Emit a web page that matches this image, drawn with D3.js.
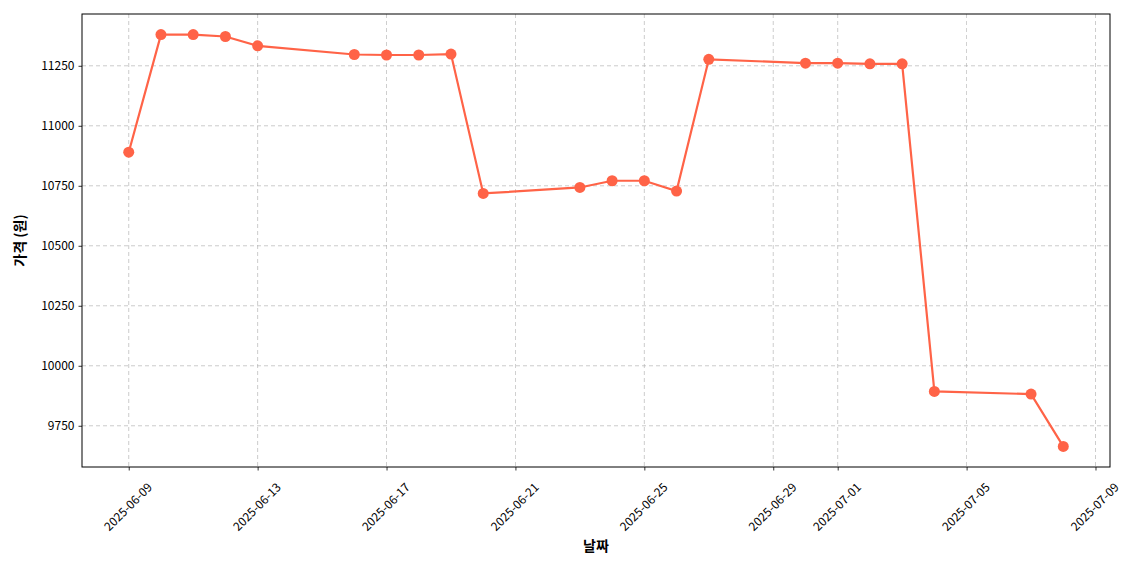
<!DOCTYPE html>
<html><head><meta charset="utf-8">
<script src="https://cdn.jsdelivr.net/npm/d3@7"></script>
<style>
body{margin:0;background:#fff;}
text{font-family:"Noto Sans CJK KR","Noto Sans",sans-serif;}
</style></head>
<body><svg id="c" width="1140" height="570"></svg>
<script>
const dates = ["2025-06-09","2025-06-10","2025-06-11","2025-06-12","2025-06-13","2025-06-16","2025-06-17","2025-06-18","2025-06-19","2025-06-20","2025-06-23","2025-06-24","2025-06-25","2025-06-26","2025-06-27","2025-06-30","2025-07-01","2025-07-02","2025-07-03","2025-07-04","2025-07-07","2025-07-08"];
const prices = [10890,11380,11380,11372,11333,11297,11295,11295,11299,10718,10743,10771,10771,10728,11277,11261,11261,11258,11258,9893,9882,9664];
const xTickLabels = ["2025-06-09","2025-06-13","2025-06-17","2025-06-21","2025-06-25","2025-06-29","2025-07-01","2025-07-05","2025-07-09"];
const yTicks = [9750,10000,10250,10500,10750,11000,11250];
const xLabel = "날짜", yLabel = "가격 (원)";

const parse = d3.utcParse("%Y-%m-%d");
const data = dates.map((d,i)=>({date:parse(d), v:prices[i]}));
const L=82,R=1110,T=14,B=467;
const svg = d3.select("#c");
const ext = d3.extent(data,d=>d.date);
const span = ext[1]-ext[0];
const x = d3.scaleUtc().domain([new Date(+ext[0]-span*0.05), new Date(+ext[1]+span*0.05)]).range([L,R]);
const yext = d3.extent(prices);
const ys = yext[1]-yext[0];
const y = d3.scaleLinear().domain([yext[0]-ys*0.05, yext[1]+ys*0.05]).range([B,T]);

const xt = xTickLabels.map(parse);
// grid
svg.append("g").selectAll("line").data(xt).join("line")
  .attr("x1",d=>x(d)).attr("x2",d=>x(d)).attr("y1",T).attr("y2",B)
  .attr("stroke","#b0b0b0").attr("stroke-width",0.8).attr("stroke-dasharray","4,3").attr("opacity",0.8);
svg.append("g").selectAll("line").data(yTicks).join("line")
  .attr("x1",L).attr("x2",R).attr("y1",d=>y(d)).attr("y2",d=>y(d))
  .attr("stroke","#b0b0b0").attr("stroke-width",0.8).attr("stroke-dasharray","4,3").attr("opacity",0.8);

// axes
const gx = svg.append("g").attr("transform",`translate(0,${B})`)
  .call(d3.axisBottom(x).tickValues(xt).tickSize(3.5).tickPadding(0).tickFormat(d3.utcFormat("%Y-%m-%d")));
gx.select(".domain").remove();
gx.selectAll("line").attr("stroke","#000").attr("stroke-width",0.8);
gx.selectAll("text").attr("font-size",12).attr("fill","#000")
  .attr("text-anchor","middle").attr("dy",null).attr("y",0)
  .attr("transform","translate(-2,39) rotate(-45)").attr("dominant-baseline","central");

const gy = svg.append("g").attr("transform",`translate(${L},0)`)
  .call(d3.axisLeft(y).tickValues(yTicks).tickSize(3.5).tickPadding(4).tickFormat(d3.format("d")));
gy.select(".domain").remove();
gy.selectAll("line").attr("stroke","#000").attr("stroke-width",0.8);
gy.selectAll("text").attr("font-size",12).attr("fill","#000");

svg.append("rect").attr("x",L).attr("y",T).attr("width",R-L).attr("height",B-T)
  .attr("fill","none").attr("stroke","#000").attr("stroke-width",1);

// line
svg.append("path").datum(data)
  .attr("d",d3.line().x(d=>x(d.date)).y(d=>y(d.v)))
  .attr("fill","none").attr("stroke","#ff6347").attr("stroke-width",2.2);
svg.append("g").selectAll("circle").data(data).join("circle")
  .attr("cx",d=>x(d.date)).attr("cy",d=>y(d.v)).attr("r",5.5).attr("fill","#ff6347");

svg.append("text").attr("x",(L+R)/2).attr("y",551).attr("text-anchor","middle")
  .attr("font-size",14).attr("font-weight","bold").text(xLabel);
svg.append("text").attr("transform",`translate(25,${(T+B)/2}) rotate(-90)`).attr("text-anchor","middle")
  .attr("font-size",14).attr("font-weight","bold").text(yLabel);
</script></body></html>
